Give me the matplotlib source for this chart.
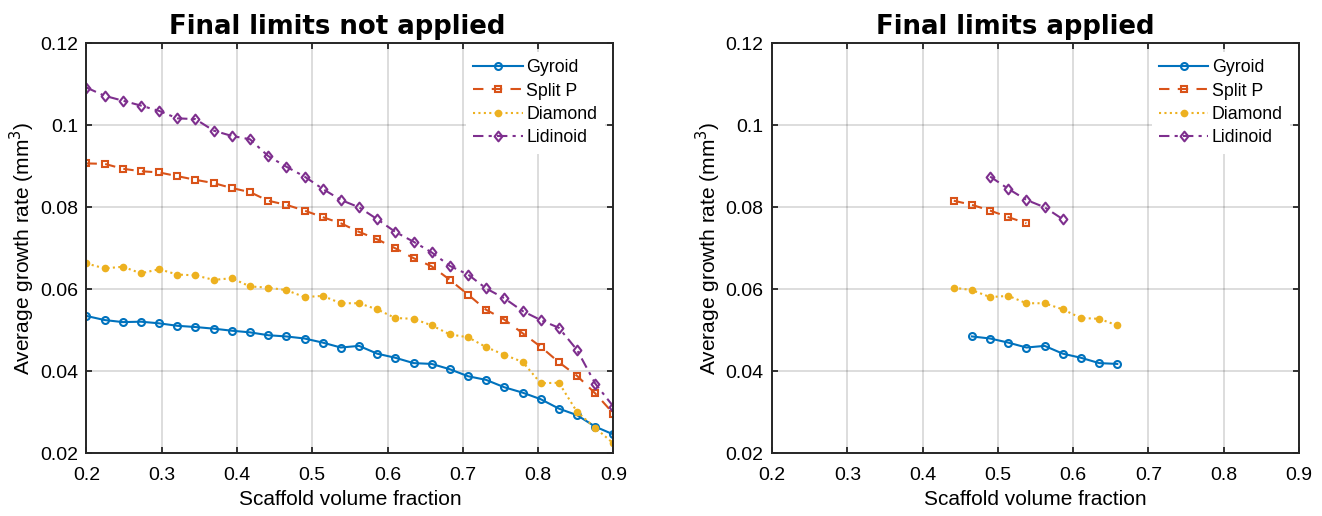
import matplotlib
matplotlib.use("Agg")
import matplotlib.pyplot as plt
from matplotlib.path import Path

plt.rcParams['font.family'] = ['Liberation Sans', 'DejaVu Sans']

# Scaffold volume fraction (30 evenly spaced samples 0.2 .. 0.9)
vol_frac = [0.2000, 0.2241, 0.2483, 0.2724, 0.2966, 0.3207, 0.3448, 0.3690,
            0.3931, 0.4172, 0.4414, 0.4655, 0.4897, 0.5138, 0.5379, 0.5621,
            0.5862, 0.6103, 0.6345, 0.6586, 0.6828, 0.7069, 0.7310, 0.7552,
            0.7793, 0.8034, 0.8276, 0.8517, 0.8759, 0.9000]

gyroid = [0.0535, 0.0525, 0.0520, 0.0521, 0.0517, 0.0511, 0.0508, 0.0504,
          0.0499, 0.0495, 0.0488, 0.0485, 0.0480, 0.0470, 0.0458, 0.0462,
          0.0443, 0.0433, 0.0420, 0.0418, 0.0405, 0.0388, 0.0379, 0.0361,
          0.0348, 0.0332, 0.0309, 0.0293, 0.0265, 0.0246]

split_p = [0.0907, 0.0906, 0.0894, 0.0888, 0.0885, 0.0876, 0.0867, 0.0859,
           0.0847, 0.0837, 0.0816, 0.0806, 0.0792, 0.0776, 0.0761, 0.0740,
           0.0722, 0.0700, 0.0676, 0.0656, 0.0623, 0.0587, 0.0550, 0.0526,
           0.0493, 0.0460, 0.0422, 0.0389, 0.0346, 0.0297]

diamond = [0.0663, 0.0651, 0.0655, 0.0639, 0.0649, 0.0636, 0.0634, 0.0623,
           0.0627, 0.0607, 0.0604, 0.0598, 0.0581, 0.0584, 0.0566, 0.0566,
           0.0551, 0.0530, 0.0528, 0.0512, 0.0490, 0.0483, 0.0459, 0.0440,
           0.0423, 0.0371, 0.0372, 0.0301, 0.0262, 0.0224]

lidinoid = [0.1092, 0.1072, 0.1060, 0.1048, 0.1035, 0.1017, 0.1015, 0.0987,
            0.0974, 0.0966, 0.0925, 0.0899, 0.0875, 0.0845, 0.0818, 0.0800,
            0.0771, 0.0740, 0.0716, 0.0690, 0.0657, 0.0636, 0.0602, 0.0578,
            0.0547, 0.0525, 0.0506, 0.0452, 0.0370, 0.0314]

# index ranges (start, stop exclusive) kept when final limits are applied
limits = {'Gyroid': (11, 20), 'Split P': (10, 15),
          'Diamond': (10, 20), 'Lidinoid': (12, 17)}

diamond_marker = Path([(0, 1), (0.8, 0), (0, -1), (-0.8, 0), (0, 1)],
                      [Path.MOVETO, Path.LINETO, Path.LINETO, Path.LINETO, Path.CLOSEPOLY])

series = [
    ('Gyroid', gyroid, dict(color='#0072BD', linestyle='-', marker='o',
                            markerfacecolor='none', markersize=5)),
    ('Split P', split_p, dict(color='#D95319', linestyle=(0, (5, 4)), marker='s',
                              markerfacecolor='none', markersize=4.3)),
    ('Diamond', diamond, dict(color='#EDB120', linestyle=(0, (1, 1.6)), marker='o',
                              markerfacecolor='#EDB120', markersize=4)),
    ('Lidinoid', lidinoid, dict(color='#7E2F8E', linestyle=(0, (5, 2.5, 1.5, 2.5)),
                                marker=diamond_marker, markerfacecolor='none',
                                markersize=7)),
]

x_ticks = [0.2, 0.3, 0.4, 0.5, 0.6, 0.7, 0.8, 0.9]
y_ticks = [0.02, 0.04, 0.06, 0.08, 0.1, 0.12]
y_tick_labels = ['0.02', '0.04', '0.06', '0.08', '0.1', '0.12']

fig = plt.figure(figsize=(13.22, 5.16), dpi=100)
ax1 = fig.add_axes([0.0654, 0.1215, 0.3986, 0.7946])
ax2 = fig.add_axes([0.5840, 0.1215, 0.3986, 0.7946])

for ax, title, limited, tx in [(ax1, 'Final limits not applied', False, 0.476),
                               (ax2, 'Final limits applied', True, 0.462)]:
    for name, vals, style in series:
        if limited:
            a, b = limits[name]
            xs, ys = vol_frac[a:b], vals[a:b]
        else:
            xs, ys = vol_frac, vals
        ax.plot(xs, ys, label=name, linewidth=1.5, markeredgewidth=1.5, **style)
    ax.set_xlim(0.2, 0.9)
    ax.set_ylim(0.02, 0.12)
    ax.set_xticks(x_ticks)
    ax.set_xticklabels([f'{t:g}' for t in x_ticks])
    ax.set_yticks(y_ticks)
    ax.set_yticklabels(y_tick_labels)
    ax.grid(True, color='#000000', alpha=0.15, linewidth=1.3)
    ax.set_axisbelow(True)
    ax.tick_params(direction='in', top=True, right=True, length=4.5, width=1.3,
                   labelsize=14, colors='#262626', pad=6)
    ax.tick_params(axis='x', labelcolor='black', pad=9.5)
    ax.tick_params(axis='y', labelcolor='black')
    for sp in ax.spines.values():
        sp.set_color('#262626')
        sp.set_linewidth(1.4)
    ax.set_xlabel('Scaffold volume fraction', fontsize=15, labelpad=5)
    ax.set_ylabel('Average growth rate (mm$^3$)', fontsize=15, labelpad=2)
    ax.set_title(title, fontsize=18.7, fontweight='bold', pad=7,
                 family='DejaVu Sans', x=tx)
    leg = ax.legend(loc='upper right', fontsize=12.8, frameon=True,
                    handlelength=2.8, handletextpad=0.2, borderaxespad=0.5,
                    borderpad=0.4, labelspacing=0.36, fancybox=False)
    leg.get_frame().set_edgecolor('none')
    leg.get_frame().set_facecolor('white')
    leg.get_frame().set_alpha(1.0)

fig.savefig('out.png', dpi=100)
